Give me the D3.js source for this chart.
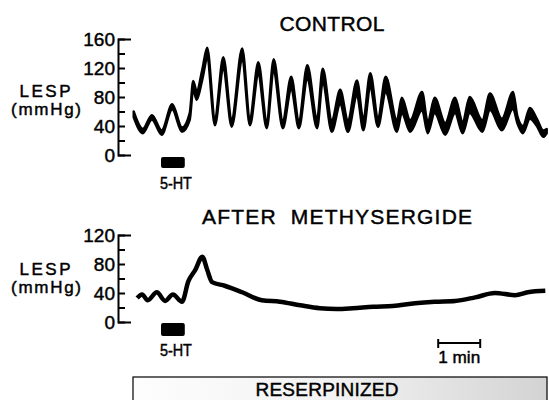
<!DOCTYPE html>
<html>
<head>
<meta charset="utf-8">
<script src="https://cdn.jsdelivr.net/npm/d3@7"></script>
<style>
body { margin: 0; background: #fff; }
svg text { font-family: "Liberation Sans", Arial, sans-serif; fill: #000; stroke: #000; stroke-width: 0.45; }
</style>
</head>
<body>
<svg id="chart" width="549" height="400"></svg>
<script>
// time in seconds from start of recording, pressure in mmHg
const controlT  = [1, 14, 27, 41, 56, 70, 81, 86, 91, 99, 106, 117, 129, 141, 156, 167, 179, 191, 201, 214, 226, 237, 249, 263, 271, 284, 296, 307, 320, 329, 339, 350, 361, 377, 384, 396, 413, 421, 431, 446, 460, 471, 481, 499, 510, 527, 543, 549, 557, 567, 577, 586, 591];
const controlHi = [60, 36, 55, 34, 70, 38, 58, 102, 88, 118, 148, 52, 135, 50, 147, 52, 128, 48, 132, 48, 108, 48, 124, 50, 119, 48, 90, 48, 103, 50, 113, 52, 108, 48, 79, 48, 87, 46, 79, 44, 79, 46, 80, 48, 85, 50, 87, 54, 40, 65, 50, 34, 36];
const controlLo = [52, 30, 49, 28, 63, 32, 48, 90, 76, 104, 132, 41, 118, 39, 130, 41, 110, 37, 114, 37, 90, 37, 104, 37, 100, 32, 70, 32, 82, 34, 92, 39, 86, 32, 58, 32, 62, 30, 58, 28, 58, 30, 58, 32, 62, 34, 64, 44, 30, 50, 40, 25, 30];

const methT = [6, 13, 21, 34, 46, 57, 70, 79, 89, 99, 106, 113, 131, 156, 184, 210, 239, 267, 291, 314, 343, 371, 403, 431, 460, 489, 517, 546, 564, 589];
const methV = [33, 38, 30, 41, 29, 38, 28, 56, 72, 90, 72, 55, 50, 41, 30, 28, 23, 19, 18, 19, 21, 22, 26, 28, 29, 34, 40, 37, 41, 43];

const htInfusion = [40, 74];     // 5-HT given, seconds
const scaleBar = [436, 496];     // 1 min calibration

const svg = d3.select('#chart');
const x = d3.scaleLinear().domain([0, 600]).range([133, 553]);

const panels = [
    {title: 'CONTROL', titleX: 332, titleY: 31, titleLen: 105, max: 160, range: [155, 39], labelY: [97, 115], htY: 157, htLabelY: 189},
    {title: 'AFTER\u00a0\u00a0METHYSERGIDE', titleX: 337, titleY: 224, titleLen: 270, max: 120, range: [322, 235], labelY: [275, 293], htY: 323, htLabelY: 356}
];

panels.forEach((p, i) => {
    const y = d3.scaleLinear().domain([0, p.max]).range(p.range);
    p.y = y;

    svg.append('text')
        .attr('x', p.titleX).attr('y', p.titleY)
        .attr('text-anchor', 'middle')
        .attr('font-size', 21)
        .attr('textLength', p.titleLen).attr('lengthAdjust', 'spacing')
        .text(p.title);

    // ticks on the right of the axis line
    svg.append('g')
        .attr('transform', 'translate(118,0)')
        .call(d3.axisRight(y).tickValues(d3.range(0, p.max + 1, 20)).tickSize(7).tickSizeOuter(13).tickFormat(''))
        .call(g => g.selectAll('path, line').attr('stroke', '#000').attr('stroke-width', 2));

    // labels on the left
    svg.append('g')
        .attr('transform', 'translate(118,0)')
        .call(d3.axisLeft(y).tickValues(d3.range(0, p.max + 1, 40)).tickSize(0).tickPadding(3))
        .call(g => g.select('.domain').remove())
        .attr('font-size', 19);

    const lab = svg.append('text')
        .attr('text-anchor', 'middle')
        .attr('font-size', 17);
    lab.append('tspan').attr('x', 45).attr('y', p.labelY[0])
        .attr('textLength', 51).attr('lengthAdjust', 'spacing').text('LESP');
    lab.append('tspan').attr('x', 46).attr('y', p.labelY[1])
        .attr('textLength', 70).attr('lengthAdjust', 'spacing').text('(mmHg)');

    // 5-HT marker
    svg.append('rect')
        .attr('x', x(htInfusion[0])).attr('y', p.htY)
        .attr('width', x(htInfusion[1]) - x(htInfusion[0])).attr('height', i === 0 ? 11 : 13)
        .attr('rx', 2).attr('fill', '#000');
    svg.append('text')
        .attr('x', (x(htInfusion[0]) + x(htInfusion[1])) / 2 + 3).attr('y', p.htLabelY)
        .attr('text-anchor', 'middle')
        .attr('font-size', 16)
        .attr('textLength', 32).attr('lengthAdjust', 'spacingAndGlyphs')
        .text('5-HT');
});

// control trace: envelope of the recording
const yc = panels[0].y;
const controlData = controlT.map((t, i) => ({t: t, hi: controlHi[i], lo: controlLo[i]}));
svg.append('path')
    .datum(controlData)
    .attr('d', d3.area().curve(d3.curveMonotoneX)
        .x(d => x(d.t)).y0(d => yc(d.lo)).y1(d => yc(d.hi)))
    .attr('fill', '#000')
    .attr('stroke', '#000')
    .attr('stroke-width', 2.4)
    .attr('stroke-linejoin', 'round');

// methysergide trace
const ym = panels[1].y;
svg.append('path')
    .datum(methT.map((t, i) => ({t: t, v: methV[i]})))
    .attr('d', d3.line().curve(d3.curveMonotoneX).x(d => x(d.t)).y(d => ym(d.v)))
    .attr('fill', 'none')
    .attr('stroke', '#000')
    .attr('stroke-width', 4.5)
    .attr('stroke-linejoin', 'round');

// 1 min calibration
const sb = svg.append('g').attr('stroke', '#000').attr('stroke-width', 2);
sb.append('line').attr('x1', x(scaleBar[0])).attr('x2', x(scaleBar[1])).attr('y1', 343).attr('y2', 343);
scaleBar.forEach(s => sb.append('line').attr('x1', x(s)).attr('x2', x(s)).attr('y1', 339).attr('y2', 348));
svg.append('text')
    .attr('x', (x(scaleBar[0]) + x(scaleBar[1])) / 2).attr('y', 363)
    .attr('text-anchor', 'middle')
    .attr('font-size', 17)
    .attr('textLength', 42).attr('lengthAdjust', 'spacingAndGlyphs')
    .text('1 min');

// reserpinized bar
const defs = svg.append('defs');
const grad = defs.append('linearGradient').attr('id', 'reserp');
grad.append('stop').attr('offset', '0%').attr('stop-color', '#fdfdfd');
grad.append('stop').attr('offset', '50%').attr('stop-color', '#f2f2f2');
grad.append('stop').attr('offset', '100%').attr('stop-color', '#d3d3d3');
svg.append('rect')
    .attr('x', 133).attr('y', 377).attr('width', 414).attr('height', 28)
    .attr('fill', 'url(#reserp)')
    .attr('stroke', '#000').attr('stroke-width', 1.2);
svg.append('text')
    .attr('x', 327).attr('y', 396)
    .attr('text-anchor', 'middle')
    .attr('font-size', 19)
    .attr('textLength', 143).attr('lengthAdjust', 'spacing')
    .text('RESERPINIZED');
</script>
</body>
</html>
